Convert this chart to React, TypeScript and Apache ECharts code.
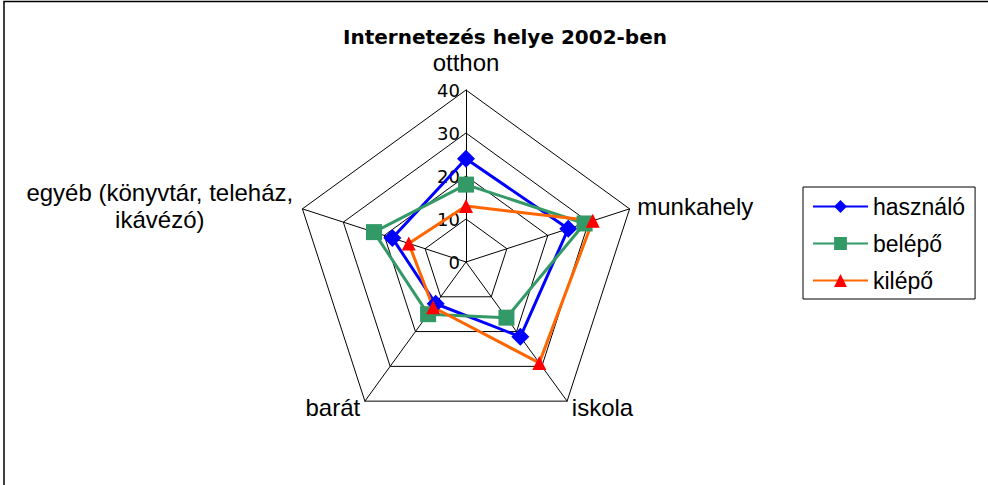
import React, { useEffect, useRef } from "react";
import * as echarts from "echarts";

const titleText = "Internetezés helye 2002-ben";
const indicators = ["otthon", "munkahely", "iskola", "barát", "egyéb (könyvtár, teleház, ikávézó)"];
const axisMax = 40;
const axisInterval = 10;
const seriesNames = ["használó", "belépő", "kilépő"];
const hasznalo = [24, 25, 21.5, 12, 18];
const belepo = [18, 29, 16, 15, 22.5];
const kilepo = [13, 31, 29, 13, 14];

const lineColors = ["#0000FF", "#339966", "#FF6600"];
const markerColors = ["#0000FF", "#339966", "#FF0000"];
const symbols = ["diamond", "rect", "triangle"];
const symbolSizes = [18, 16, 14];

// ECharts radar runs counter-clockwise; the reference runs clockwise from the top.
const order = [0, 4, 3, 2, 1];

export default function App() {
  const ref = useRef<HTMLDivElement>(null);
  useEffect(() => {
    if (!ref.current) return;
    const chart = echarts.init(ref.current, undefined, { renderer: "svg" });
    const values = [hasznalo, belepo, kilepo];
    const font = "Liberation Sans";
    chart.setOption({
      animation: false,
      backgroundColor: "#fff",
      title: {
        text: titleText,
        left: 505,
        top: 27,
        textAlign: "center",
        padding: 0,
        textStyle: { fontFamily: "DejaVu Sans", fontWeight: "bold", fontSize: 20, color: "#000" },
      },
      graphic: [
        {
          type: "rect",
          shape: { x: 4, y: 1.5, width: 1000, height: 600 },
          style: { fill: "none", stroke: "#000", lineWidth: 1.5 },
          silent: true,
        },
      ],
      legend: {
        data: seriesNames,
        orient: "vertical",
        left: 803,
        top: 187,
        padding: [8, 10, 7, 9],
        itemGap: 14,
        itemWidth: 55,
        itemHeight: 16,
        borderColor: "#000",
        borderWidth: 1,
        textStyle: { fontFamily: font, fontSize: 23, color: "#000" },
      },
      grid: { left: 0, top: 0, width: 1, height: 1, show: false },
      xAxis: { type: "category", show: false, data: [] },
      yAxis: { type: "value", show: false },
      polar: { center: [466, 262], radius: 172 },
      angleAxis: { type: "value", show: false, startAngle: 90, min: 0, max: 360 },
      radiusAxis: {
        type: "value",
        min: 0,
        max: axisMax,
        interval: axisInterval,
        axisLine: { show: false },
        axisTick: { show: false },
        splitLine: { show: false },
        axisLabel: { fontFamily: "DejaVu Sans", fontSize: 18, color: "#000", margin: 6 },
      },
      radar: {
        center: [466, 262],
        radius: 172,
        startAngle: 90,
        shape: "polygon",
        splitNumber: 4,
        axisNameGap: 8,
        indicator: order.map((k) => ({ name: indicators[k], min: 0, max: axisMax })),
        axisName: {
          color: "#000",
          fontFamily: font,
          fontSize: 24,
          formatter: (name: string) => {
            if (name === "otthon") return "{top|otthon}";
            if (name.startsWith("egyéb")) return "{c|egyéb (könyvtár, teleház,}\n{c|ikávézó)}";
            return name;
          },
          rich: {
            top: { fontFamily: font, fontSize: 24, color: "#000", padding: [0, 0, 8, 0] },
            c: { fontFamily: font, fontSize: 24, color: "#000", width: 270, align: "center", lineHeight: 27 },
          },
        },
        axisLine: { lineStyle: { color: "#000", width: 1 } },
        splitLine: { lineStyle: { color: "#000", width: 1 } },
        splitArea: { show: false },
      },
      series: [
        {
          type: "radar",
          data: seriesNames.map((n, i) => ({
            name: n,
            value: order.map((k) => values[i][k]),
            symbol: symbols[i],
            symbolSize: symbolSizes[i],
            lineStyle: { color: lineColors[i], width: 3 },
            itemStyle: { color: markerColors[i] },
          })),
        },
        ...seriesNames.map((n, i) => ({
          type: "line",
          name: n,
          data: [],
          symbol: symbols[i],
          lineStyle: { color: lineColors[i], width: 3 },
          itemStyle: { color: markerColors[i] },
        })),
      ],
    });
    return () => chart.dispose();
  }, []);
  return <div ref={ref} style={{ width: 988, height: 485, position: "absolute", left: 0, top: 0 }} />;
}
